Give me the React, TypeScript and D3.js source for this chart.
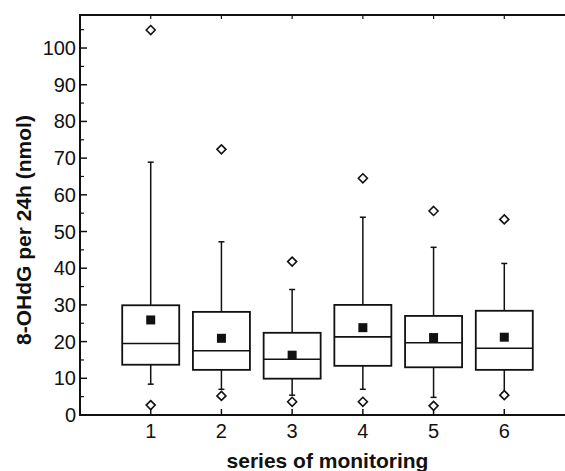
import { useEffect, useRef } from 'react'
import * as d3 from 'd3'

const SERIES = [1, 2, 3, 4, 5, 6]
const Q1 = [13.7, 12.3, 9.9, 13.4, 13.0, 12.3]
const MEDIAN = [19.5, 17.5, 15.2, 21.3, 19.7, 18.2]
const Q3 = [29.9, 28.1, 22.4, 30.0, 27.0, 28.4]
const MEAN = [25.9, 20.9, 16.3, 23.8, 21.1, 21.2]
const WHISK_LO = [8.4, 7.0, 5.4, 7.0, 4.8, 6.0]
const WHISK_HI = [68.9, 47.2, 34.2, 53.9, 45.7, 41.3]
const OUT_LO = [2.7, 5.2, 3.6, 3.6, 2.5, 5.4]
const OUT_HI = [104.9, 72.4, 41.8, 64.5, 55.6, 53.3]
const Y_TICKS = [0, 10, 20, 30, 40, 50, 60, 70, 80, 90, 100]
const Y_MINOR = [5, 15, 25, 35, 45, 55, 65, 75, 85, 95, 105]

export default function App() {
  const ref = useRef<SVGSVGElement>(null)
  useEffect(() => {
    if (!ref.current) return
    const W = 565, H = 471
    const svg = d3.select(ref.current)
    svg.selectAll('*').remove()
    const x = d3.scaleLinear().domain([0, 7]).range([80, 575])
    const y = d3.scaleLinear().domain([0, 109]).range([415, 15])
    const ink = '#111'
    const font = 'Liberation Sans, Arial, Helvetica, sans-serif'
    const hw = 28.5

    // frame: left axis, bottom axis, top border
    svg.append('path').attr('d', `M${x(7)},${y(109)}H${x(0)}V${y(0)}H${x(7)}`)
      .attr('fill', 'none').attr('stroke', ink).attr('stroke-width', 2)

    // y ticks (inward)
    svg.selectAll('.ymaj').data(Y_TICKS).join('line')
      .attr('x1', x(0)).attr('x2', x(0) + 7).attr('y1', d => y(d)).attr('y2', d => y(d))
      .attr('stroke', ink).attr('stroke-width', 1.5)
    svg.selectAll('.ymin').data(Y_MINOR).join('line')
      .attr('x1', x(0)).attr('x2', x(0) + 4).attr('y1', d => y(d)).attr('y2', d => y(d))
      .attr('stroke', ink).attr('stroke-width', 1.2)
    svg.selectAll('.ylab').data(Y_TICKS).join('text')
      .attr('x', x(0) - 4).attr('y', d => y(d) + 7).attr('text-anchor', 'end')
      .style('font-family', font).style('font-size', '20px').attr('fill', ink).text(d => d)

    // x ticks bottom + top
    svg.selectAll('.xt').data(SERIES).join('line')
      .attr('x1', d => x(d)).attr('x2', d => x(d)).attr('y1', y(0)).attr('y2', y(0) - 6)
      .attr('stroke', ink).attr('stroke-width', 1.5)
    svg.selectAll('.xtt').data(SERIES).join('line')
      .attr('x1', d => x(d)).attr('x2', d => x(d)).attr('y1', y(109)).attr('y2', y(109) + 4)
      .attr('stroke', ink).attr('stroke-width', 1.2)
    svg.selectAll('.xlab').data(SERIES).join('text')
      .attr('x', d => x(d)).attr('y', 438).attr('text-anchor', 'middle')
      .style('font-family', font).style('font-size', '20px').attr('fill', ink).text(d => d)

    // boxes
    const g = svg.append('g').attr('stroke', ink).attr('fill', 'none')
    SERIES.forEach((s, i) => {
      const cx = x(s)
      g.append('line').attr('x1', cx).attr('x2', cx).attr('y1', y(Q3[i])).attr('y2', y(WHISK_HI[i])).attr('stroke-width', 1.5)
      g.append('line').attr('x1', cx).attr('x2', cx).attr('y1', y(Q1[i])).attr('y2', y(WHISK_LO[i])).attr('stroke-width', 1.5)
      g.append('line').attr('x1', cx - 3).attr('x2', cx + 3).attr('y1', y(WHISK_HI[i])).attr('y2', y(WHISK_HI[i])).attr('stroke-width', 1.5)
      g.append('line').attr('x1', cx - 3).attr('x2', cx + 3).attr('y1', y(WHISK_LO[i])).attr('y2', y(WHISK_LO[i])).attr('stroke-width', 1.5)
      g.append('rect').attr('x', cx - hw).attr('width', hw * 2)
        .attr('y', y(Q3[i])).attr('height', y(Q1[i]) - y(Q3[i])).attr('stroke-width', 1.8).attr('fill', '#fff')
      g.append('line').attr('x1', cx - hw).attr('x2', cx + hw).attr('y1', y(MEDIAN[i])).attr('y2', y(MEDIAN[i])).attr('stroke-width', 1.6)
      g.append('rect').attr('x', cx - 4.5).attr('y', y(MEAN[i]) - 4.5).attr('width', 9).attr('height', 9)
        .attr('fill', ink).attr('stroke', 'none')
      ;[OUT_LO[i], OUT_HI[i]].forEach(v => {
        const cy = y(v)
        g.append('path').attr('d', `M${cx},${cy - 4.5}L${cx + 4.5},${cy}L${cx},${cy + 4.5}L${cx - 4.5},${cy}Z`)
          .attr('fill', '#fff').attr('stroke-width', 1.6)
      })
    })

    // axis titles
    svg.append('text').attr('transform', `translate(31,${(y(0) + y(109)) / 2 + 15}) rotate(-90)`)
      .attr('text-anchor', 'middle').style('font-family', font).style('font-size', '21px')
      .style('font-weight', 'bold').attr('fill', ink).text('8-OHdG per 24h (nmol)')
    svg.append('text').attr('x', (x(0) + x(7)) / 2).attr('y', 468).attr('text-anchor', 'middle')
      .style('font-family', font).style('font-size', '21px').style('font-weight', 'bold')
      .attr('fill', ink).text('series of monitoring')
    svg.attr('width', W).attr('height', H)
  }, [])
  return <svg ref={ref} width={565} height={471} style={{ position: 'absolute', left: 0, top: 0, background: '#fff' }} />
}
